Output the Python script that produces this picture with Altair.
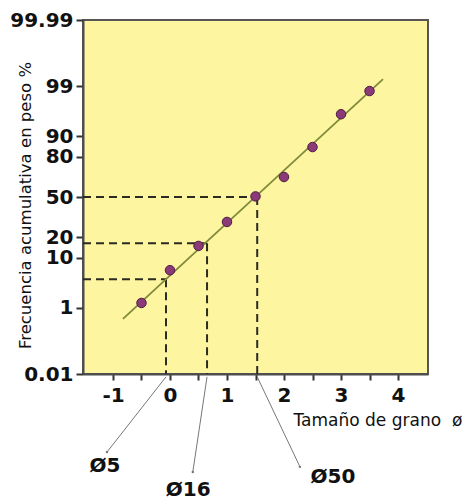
import altair as alt
import pandas as pd
from statistics import NormalDist

_nd = NormalDist()


def probit(pct):
    return _nd.inv_cdf(pct / 100.0)


# ---- data ----
phi_pts = [-0.5, 0.0, 0.5, 1.0, 1.5, 2.0, 2.5, 3.0, 3.5]
pct_pts = [1.3, 6.2, 15.2, 30.0, 50.5, 66.3, 85.3, 95.9, 98.7]

fit_phi = [-0.825, 3.737]
fit_pct = [0.52, 99.34]

cut_labels = ["Ø5", "Ø16", "Ø50"]
cut_pct = [4.2, 16.5, 50.0]
cut_phi = [-0.07, 0.65, 1.53]

y_tick_labels = ["0.01", "1", "10", "20", "50", "80", "90", "99", "99.99"]
y_tick_pct = [0.01, 1, 10, 20, 50, 80, 90, 99, 99.99]
x_tick_values = [-1, -0.5, 0, 0.5, 1, 1.5, 2, 2.5, 3, 3.5, 4]

# annotation placement (below the axis, in probit units)
arrow_end_phi = [-1.105, 0.40, 2.28]
arrow_end_z = [-5.36, -5.78, -5.67]
label_phi = [-1.14, 0.32, 2.86]
label_z = [-5.65, -6.15, -5.88]

X_MIN, X_MAX = -1.526, 4.526
Z_MIN, Z_MAX = probit(0.01), probit(99.99)

y_tick_z = [probit(p) for p in y_tick_pct]

# label expression built from the tick label list
parts = []
for i, lab in enumerate(y_tick_labels[:-1]):
    mid = (y_tick_z[i] + y_tick_z[i + 1]) / 2
    parts.append(f"datum.value < {mid:.5f} ? '{lab}' : ")
y_label_expr = "".join(parts) + f"'{y_tick_labels[-1]}'"

pts = pd.DataFrame({"phi": phi_pts, "z": [probit(p) for p in pct_pts]})
fit = pd.DataFrame({"phi": fit_phi, "z": [probit(p) for p in fit_pct]})
cuts = pd.DataFrame({
    "label": cut_labels,
    "phi": cut_phi,
    "z": [probit(p) for p in cut_pct],
    "x0": [X_MIN] * 3,
    "zbot": [Z_MIN] * 3,
    "zstart": [Z_MIN - 0.06] * 3,
    "ephi": arrow_end_phi,
    "ez": arrow_end_z,
    "lphi": label_phi,
    "lz": label_z,
})

x_scale = alt.Scale(domain=[X_MIN, X_MAX], nice=False, zero=False)
y_scale = alt.Scale(domain=[Z_MIN, Z_MAX], nice=False, zero=False)

TICK_FONT = "DejaVu Sans"

x_axis = alt.Axis(
    values=x_tick_values,
    labelExpr="datum.value % 1 == 0 ? '' + datum.value : ''",
    title="Tamaño de grano\u00a0\u00a0ø",
    titleFont="DejaVu Sans",
    titleFontSize=17,
    titleFontWeight="normal",
    titleColor="#111111",
    titleX=210,
    titleY=46,
    titleAlign="left",
    titleBaseline="middle",
    labelFont=TICK_FONT,
    labelFontSize=20,
    labelFontWeight="bold",
    labelColor="#111111",
    labelPadding=5,
    labelFlush=False,
    labelOverlap=False,
    tickSize=6,
    tickWidth=2,
    tickColor="#333333",
    domainColor="#4d4d4d",
    domainWidth=2,
    grid=False,
)

y_axis = alt.Axis(
    values=y_tick_z,
    labelExpr=y_label_expr,
    title="Frecuencia acumulativa en peso %",
    titleFont="DejaVu Sans",
    titleFontSize=16.5,
    titleFontWeight="normal",
    titleColor="#111111",
    titleX=-50,
    titleY=185,
    labelFont=TICK_FONT,
    labelFontSize=20,
    labelFontWeight="bold",
    labelColor="#111111",
    labelPadding=3,
    labelFlush=False,
    labelOverlap=False,
    tickSize=7,
    tickWidth=2,
    tickColor="#333333",
    domainColor="#4d4d4d",
    domainWidth=2,
    grid=False,
)


def X(field):
    return alt.X(f"{field}:Q", scale=x_scale, axis=x_axis)


def Y(field):
    return alt.Y(f"{field}:Q", scale=y_scale, axis=y_axis)


h_dash = alt.Chart(cuts).mark_rule(
    color="#2b2b22", strokeWidth=2, strokeDash=[8, 5]
).encode(x=X("x0"), x2="phi:Q", y=Y("z"))

v_dash = alt.Chart(cuts).mark_rule(
    color="#2b2b22", strokeWidth=2, strokeDash=[8, 5]
).encode(x=X("phi"), y=Y("z"), y2="zbot:Q")

fit_line = alt.Chart(fit).mark_line(
    color="#7f8b3a", strokeWidth=1.8
).encode(x=X("phi"), y=Y("z"))

points = alt.Chart(pts).mark_point(
    filled=True, size=90, fill="#8b3a78", stroke="#4f1c45", strokeWidth=1, opacity=1
).encode(x=X("phi"), y=Y("z"))

arrows = alt.Chart(cuts).mark_rule(
    color="#777777", strokeWidth=1
).encode(x=X("phi"), y=Y("zstart"), x2="ephi:Q", y2="ez:Q")

arrow_tips = alt.Chart(cuts).mark_point(
    filled=True, size=6, color="#777777", opacity=1
).encode(x=X("ephi"), y=Y("ez"))

labels = alt.Chart(cuts).mark_text(
    font=TICK_FONT, fontSize=20, fontWeight="bold", color="#111111",
    align="center", baseline="middle"
).encode(x=X("lphi"), y=Y("lz"), text="label:N")

chart = alt.layer(
    h_dash, v_dash, fit_line, points, arrows, arrow_tips, labels
).properties(
    width=345,
    height=354,
    autosize=alt.AutoSizeParams(type="none"),
    padding={"left": 75, "top": 12, "right": 40, "bottom": 126},
    background="white",
).configure_view(
    fill="#fdf5a0", stroke="#555555", strokeWidth=2
)

chart.save("out.html", embed_options={"renderer": "svg", "actions": False})
